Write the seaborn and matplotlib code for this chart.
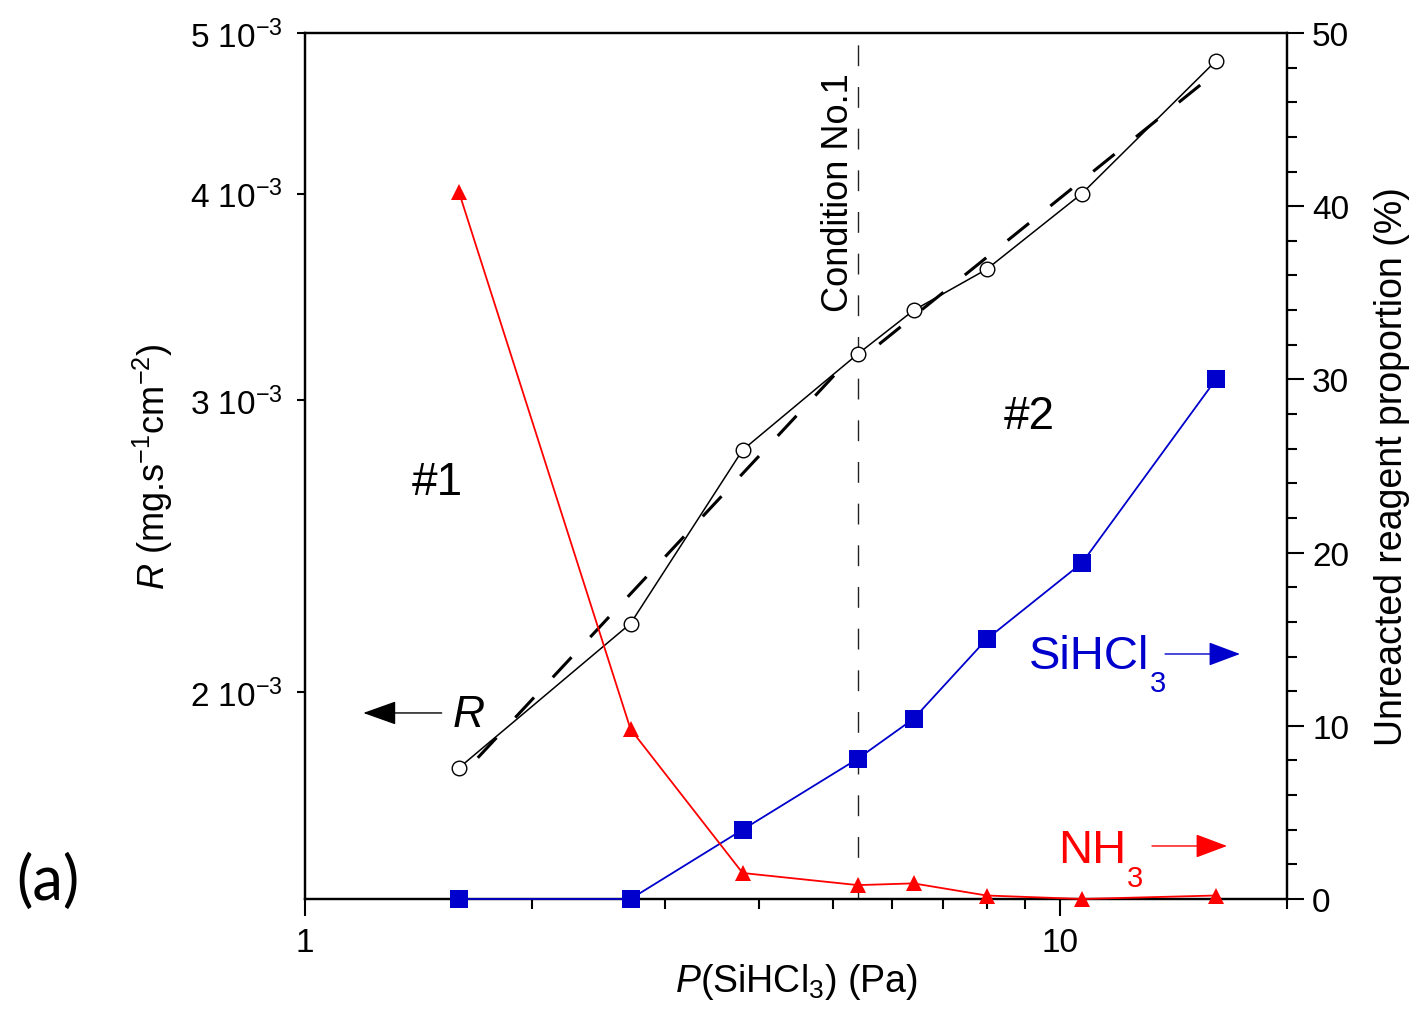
import numpy as np
import pandas as pd
import matplotlib
matplotlib.use('Agg')
import matplotlib.pyplot as plt
import seaborn as sns
from matplotlib.ticker import NullLocator, NullFormatter, LogLocator, MultipleLocator

# values
pressure = np.array([1.6, 2.7, 3.8, 5.4, 6.4, 8.0, 10.7, 16.1])              # P(SiHCl3), Pa
rate = np.array([1.80, 2.20, 2.80, 3.20, 3.40, 3.60, 4.00, 4.81]) * 1e-3      # mg/s/cm2
unreacted_sihcl3 = np.array([0.0, 0.0, 4.0, 8.1, 10.4, 15.0, 19.4, 30.0])     # %
unreacted_nh3 = np.array([40.8, 9.8, 1.5, 0.8, 0.9, 0.2, 0.0, 0.2])           # %
p_condition1 = 5.4

r_ticks = [2e-3, 3e-3, 4e-3, 5e-3]
r_ticklabels = ['2 10$^{-3}$', '3 10$^{-3}$', '4 10$^{-3}$', '5 10$^{-3}$']
pct_ticks = [0, 10, 20, 30, 40, 50]
x_ticks = [1, 10]
x_ticklabels = ['1', '10']

df = pd.DataFrame({'P': pressure, 'R': rate,
                   'SiHCl3': unreacted_sihcl3, 'NH3': unreacted_nh3})

sns.set_style('ticks')
plt.rcParams['font.family'] = ['Liberation Sans', 'DejaVu Sans']
plt.rcParams['mathtext.fontset'] = 'custom'
plt.rcParams['mathtext.rm'] = 'Liberation Sans'
plt.rcParams['mathtext.it'] = 'Liberation Sans:italic'
plt.rcParams['axes.linewidth'] = 1.6
for key in ['axes.edgecolor', 'text.color', 'axes.labelcolor', 'xtick.color', 'ytick.color']:
    plt.rcParams[key] = 'black'

BLUE = '#0000cc'
RED = '#ff0000'

fig, ax = plt.subplots(figsize=(14.17, 10.12), dpi=100)
fig.subplots_adjust(left=0.2152, right=0.9083, bottom=0.1107, top=0.9664)
ax.set_xscale('log')
ax.set_yscale('log')
ax2 = ax.twinx()

# condition No.1 marker line
ax.axvline(p_condition1, color='#222222', lw=1, linestyle=(0, (15, 15)), zorder=1)

# power-law fits, regime #1 and regime #2 split at condition No.1
for mask in [df['P'] <= p_condition1, df['P'] >= p_condition1]:
    sub = df[mask]
    n, logk = np.polyfit(np.log10(sub['P']), np.log10(sub['R']), 1)
    pf = np.geomspace(sub['P'].min(), sub['P'].max(), 50)
    sns.lineplot(x=pf, y=10 ** logk * pf ** n, ax=ax, color='black', lw=2.2,
                 linestyle=(9, (9, 9)), errorbar=None, zorder=2)

# deposition rate
sns.lineplot(data=df, x='P', y='R', ax=ax, color='black', lw=1.1, marker='o',
             markersize=10.5, markerfacecolor='white', markeredgecolor='black',
             markeredgewidth=1.0, errorbar=None, zorder=4)

# unreacted proportions
sns.lineplot(data=df, x='P', y='SiHCl3', ax=ax2, color=BLUE, lw=1.3, marker='s',
             markersize=12.5, markeredgecolor=BLUE, markeredgewidth=0,
             errorbar=None, clip_on=False, zorder=4)
sns.lineplot(data=df, x='P', y='NH3', ax=ax2, color=RED, lw=1.3, marker='^',
             markersize=11.5, markeredgecolor=RED, markeredgewidth=0,
             errorbar=None, clip_on=False, zorder=4)

ax.set_xlim(1, 20)
ax.set_ylim(1.5e-3, 5e-3)
ax2.set_ylim(0, 50)

ax.set_yticks(r_ticks)
ax.set_yticklabels(r_ticklabels)
ax.yaxis.set_minor_locator(NullLocator())
ax.set_xticks(x_ticks)
ax.set_xticklabels(x_ticklabels)
ax.xaxis.set_minor_locator(LogLocator(base=10, subs=np.arange(2, 10)))
ax.xaxis.set_minor_formatter(NullFormatter())
ax2.set_yticks(pct_ticks)
ax2.yaxis.set_minor_locator(MultipleLocator(2))

ax.tick_params(axis='x', which='major', direction='out', length=12, width=1.5, labelsize=24, pad=8)
ax.tick_params(axis='x', which='minor', direction='out', length=7, width=1.5)
ax.tick_params(axis='y', which='major', direction='out', length=6, width=1.5, labelsize=24, pad=10)
ax2.tick_params(axis='y', which='major', direction='out', length=12, width=1.5, labelsize=24, pad=6)
ax2.tick_params(axis='y', which='minor', direction='out', length=7, width=1.5)

ax.set_xlabel('$P$(SiHCl$_3$) (Pa)', fontsize=27, labelpad=2)
ax.set_ylabel('$R$ (mg.s$^{-1}$cm$^{-2}$)', fontsize=26, labelpad=11)
ax2.set_ylabel('Unreacted reagent proportion (%)', fontsize=27, labelpad=18)

# annotations
ax.text(0.1344, 0.4677, '#1', transform=ax.transAxes, fontsize=33, ha='center', va='baseline')
ax.text(0.7378, 0.5439, '#2', transform=ax.transAxes, fontsize=33, ha='center', va='baseline')
ax.text(0.553, 0.8164, 'Condition No.1', transform=ax.transAxes, fontsize=26, rotation=90,
        rotation_mode='anchor', ha='center', va='baseline')

ax.text(0.1665, 0.1998, 'R', transform=ax.transAxes, fontsize=32, fontstyle='italic',
        ha='center', va='baseline')
ax.annotate('', xy=(0.0594, 0.2148), xytext=(0.1392, 0.2148), xycoords='axes fraction',
            arrowprops=dict(arrowstyle='-|>,head_length=21,head_width=7.5', mutation_scale=1,
                            color='black', lw=1, shrinkA=0, shrinkB=0))

# species labels with a low-set subscript, as in the original
ax.text(0.7373, 0.2667, 'SiHCl', transform=ax.transAxes, fontsize=34, color=BLUE,
        ha='left', va='baseline')
ax.text(0.8600, 0.2402, '3', transform=ax.transAxes, fontsize=21, color=BLUE,
        ha='left', va='baseline')
ax.annotate('', xy=(0.9521, 0.2829), xytext=(0.8758, 0.2829), xycoords='axes fraction',
            arrowprops=dict(arrowstyle='-|>,head_length=20,head_width=7.5', mutation_scale=1,
                            color=BLUE, lw=1, shrinkA=0, shrinkB=0))

ax.text(0.7668, 0.0424, 'NH', transform=ax.transAxes, fontsize=34, color=RED,
        ha='left', va='baseline')
ax.text(0.8365, 0.0150, '3', transform=ax.transAxes, fontsize=21, color=RED,
        ha='left', va='baseline')
ax.annotate('', xy=(0.9389, 0.0612), xytext=(0.8625, 0.0612), xycoords='axes fraction',
            arrowprops=dict(arrowstyle='-|>,head_length=20,head_width=7.5', mutation_scale=1,
                            color=RED, lw=1, shrinkA=0, shrinkB=0))

fig.text(0.0335, 0.1107, '(a)', fontsize=44, family='Lato', ha='center', va='baseline')

fig.savefig('out.png', dpi=100)
